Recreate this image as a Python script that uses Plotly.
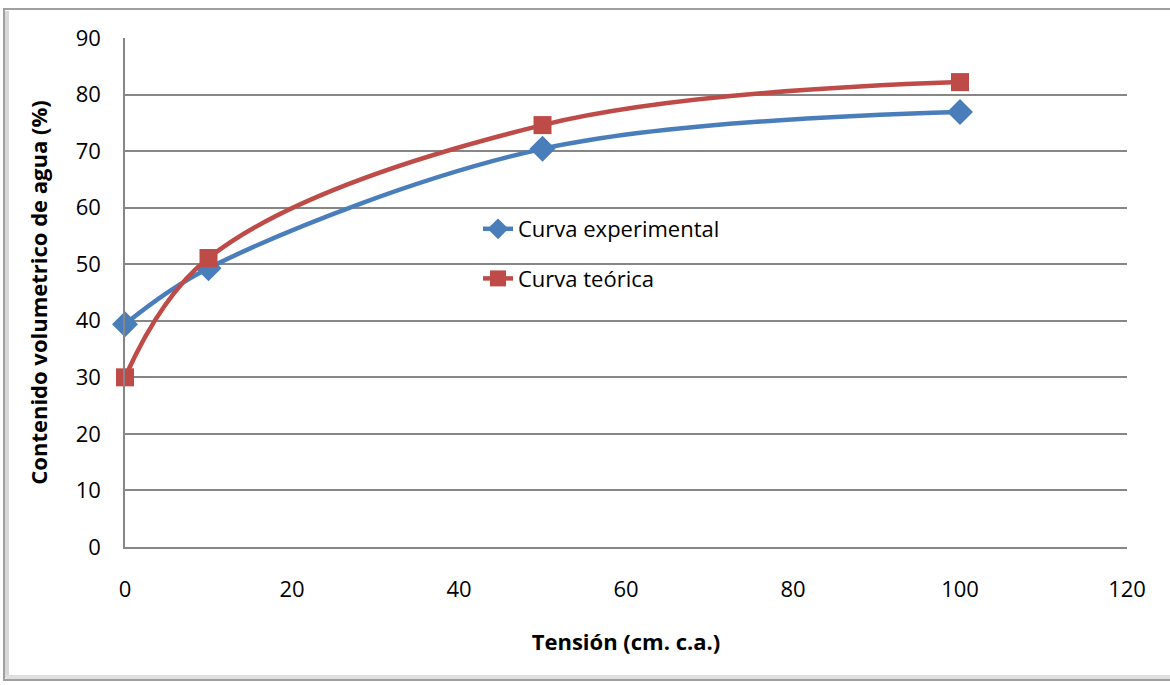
import plotly.graph_objects as go

x_vals = [0, 10, 50, 100]
exp_vals = [39.4, 49.3, 70.4, 76.9]
teo_vals = [30.0, 51.1, 74.6, 82.2]
x_ticks = [0, 20, 40, 60, 80, 100, 120]
y_ticks = [0, 10, 20, 30, 40, 50, 60, 70, 80, 90]

W, H = 1170, 685
L, R, T, B = 125, 43, 38, 138
pw, ph = W - L - R, H - T - B

def px_x(p):
    return (p - L) / pw

def px_y(p):
    return (H - B - p) / ph

fig = go.Figure()
fig.add_trace(go.Scatter(
    x=x_vals, y=exp_vals, name="Curva experimental", mode="lines+markers",
    line=dict(color="#4A7EBB", width=4.5, shape="spline", smoothing=1.0),
    marker=dict(symbol="diamond", size=20, color="#4A7EBB"),
    cliponaxis=False, legendgroup="a"))
fig.add_trace(go.Scatter(
    x=x_vals, y=teo_vals, name="Curva teórica", mode="lines+markers",
    line=dict(color="#BE4B48", width=4.5, shape="spline", smoothing=1.05),
    marker=dict(symbol="square", size=18, color="#BE4B48"),
    cliponaxis=False, legendgroup="b"))

font = "Open Sans, Liberation Sans, DejaVu Sans, sans-serif"
fig.update_layout(
    width=W, height=H,
    margin=dict(l=L, r=R, t=T, b=B),
    paper_bgcolor="white", plot_bgcolor="white",
    font=dict(family=font, size=22, color="black"),
    showlegend=True,
    legend=dict(x=px_x(478), y=px_y(208), xanchor="left", yanchor="top",
                bgcolor="rgba(0,0,0,0)", font=dict(size=22),
                traceorder="grouped", tracegroupgap=18, itemwidth=30),
    xaxis=dict(range=[0, 120], tickvals=x_ticks, showgrid=False,
               showline=True, linecolor="#868686", linewidth=1.5,
               zeroline=False, ticks="", ticklabelstandoff=22,
               tickfont=dict(size=22),
               title=dict(text="<b>Tensión (cm. c.a.)</b>", font=dict(size=22), standoff=32)),
    yaxis=dict(range=[0, 90], tickvals=y_ticks, showgrid=True,
               gridcolor="#868686", gridwidth=1.5,
               showline=True, linecolor="#868686", linewidth=1.5,
               zeroline=False, ticks="", ticklabelstandoff=18,
               tickfont=dict(size=22),
               title=dict(text="<b>Contenido volumetrico de agua (%)</b>", font=dict(size=22), standoff=22)),
    shapes=[
        dict(type="rect", xref="paper", yref="paper",
             x0=px_x(4), x1=px_x(1172), y0=px_y(680), y1=px_y(9),
             line=dict(color="#A0A0A0", width=2), layer="below"),
        dict(type="line", xref="paper", yref="paper",
             x0=px_x(7), x1=px_x(7), y0=px_y(678), y1=px_y(11),
             line=dict(color="#D8D8D8", width=4), layer="below"),
        dict(type="line", xref="paper", yref="paper",
             x0=px_x(6), x1=px_x(1172), y0=px_y(677), y1=px_y(677),
             line=dict(color="#E0E0E0", width=4), layer="below"),
    ],
)

fig.write_html("out.html", config={"displayModeBar": False},
               post_script="document.body.style.margin='0';document.body.style.overflow='hidden';")
